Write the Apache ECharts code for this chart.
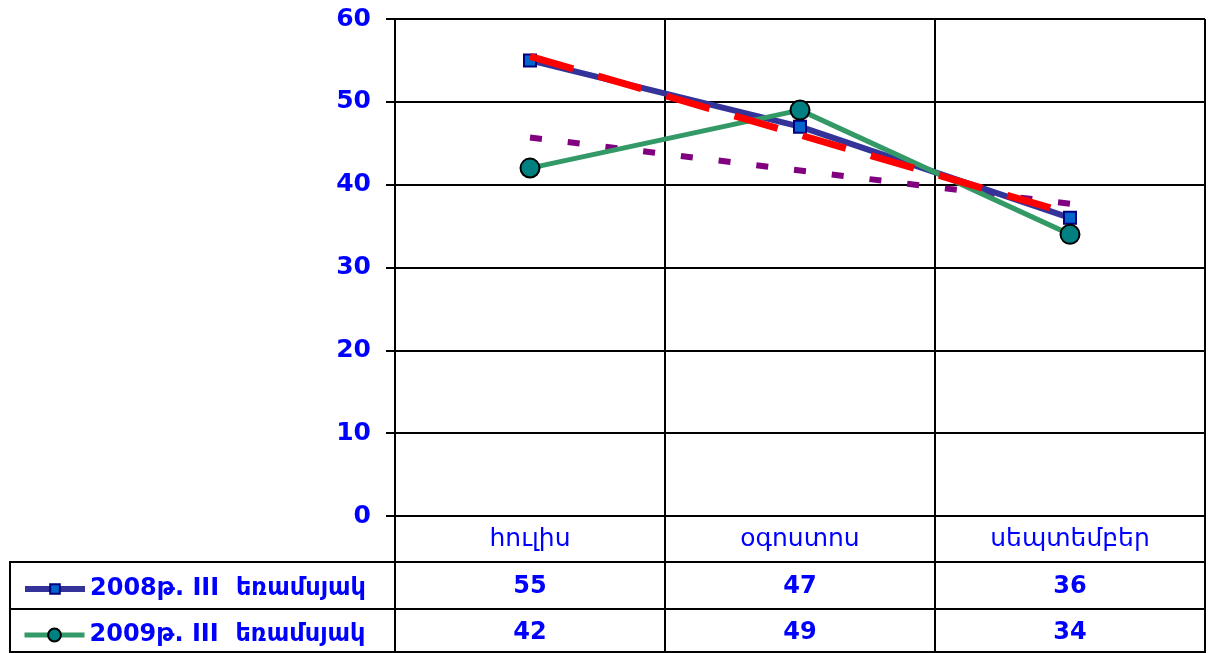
<!DOCTYPE html>
<html>
<head>
<meta charset="utf-8">
<script src="https://cdn.jsdelivr.net/npm/echarts@6/dist/echarts.min.js"></script>
<style>
  html, body { margin: 0; padding: 0; background: #fff; }
  #chart { width: 1208px; height: 653px; }
</style>
</head>
<body>
<div id="chart"></div>
<script>
// Months of the third quarter
const months = ['հուլիս', 'օգոստոս', 'սեպտեմբեր'];
const seriesNames = ['2008թ. III  եռամսյակ', '2009թ. III  եռամսյակ'];
const values2008 = [55, 47, 36];
const values2009 = [42, 49, 34];
// Linear trend lines for each year
const trend2008 = [55.5, 46, 36.5];
const trend2009 = [45.7, 41.7, 37.7];
const yTicks = [0, 10, 20, 30, 40, 50, 60];

const FONT = '"DejaVu Sans", "Liberation Sans", Arial, sans-serif';
const BLUE = '#0000FF';
const GRID_LINE = { color: '#000', width: 2 };

const chart = echarts.init(document.getElementById('chart'), null, { renderer: 'canvas' });

// Rows of the data table under the plot, one hidden axis per row for labels
function rowAxis(offset, margin, values) {
  return {
    type: 'category',
    data: months,
    position: 'bottom',
    offset: offset,
    axisLine: { show: false },
    axisTick: { show: false },
    splitLine: { show: false },
    axisLabel: {
      margin: margin,
      interval: 0,
      color: BLUE,
      fontFamily: FONT,
      fontSize: 24,
      fontWeight: 'bold',
      formatter: (v, i) => String(values[i])
    }
  };
}

const legendText = { color: BLUE, fontFamily: FONT, fontSize: 24, fontWeight: 'bold' };

const option = {
  animation: false,
  backgroundColor: '#fff',
  grid: { left: 395, right: 3, top: 19, bottom: 137, containLabel: false },
  xAxis: [
    {
      type: 'category',
      data: months,
      boundaryGap: true,
      position: 'bottom',
      axisLine: { show: true, lineStyle: GRID_LINE },
      axisTick: { show: true, interval: 0, length: 137, lineStyle: GRID_LINE },
      splitLine: { show: true, interval: 0, lineStyle: GRID_LINE },
      axisLabel: {
        margin: 11, interval: 0, color: BLUE, fontFamily: FONT, fontSize: 25
      }
    },
    rowAxis(46, 13, values2008),
    rowAxis(93, 12, values2009)
  ],
  yAxis: {
    type: 'value',
    min: yTicks[0],
    max: yTicks[yTicks.length - 1],
    interval: 10,
    axisLine: { show: true, lineStyle: GRID_LINE },
    axisTick: { show: true, length: 9, lineStyle: GRID_LINE },
    splitLine: { show: true, lineStyle: GRID_LINE },
    axisLabel: {
      margin: 24, color: BLUE, fontFamily: FONT, fontSize: 25, fontWeight: 'bold'
    }
  },
  legend: [
    {
      data: [seriesNames[0]],
      left: 17, top: 572,
      itemWidth: 60, itemHeight: 12, itemGap: 5,
      lineStyle: { width: 6 },
      textStyle: legendText
    },
    {
      data: [seriesNames[1]],
      left: 17, top: 618,
      itemWidth: 60, itemHeight: 16, itemGap: 5,
      lineStyle: { width: 5 },
      textStyle: legendText
    }
  ],
  graphic: [
    // table rules and left border
    { type: 'line', shape: { x1: 10, y1: 562, x2: 1205, y2: 562 }, style: { stroke: '#000', lineWidth: 2 } },
    { type: 'line', shape: { x1: 10, y1: 609, x2: 1205, y2: 609 }, style: { stroke: '#000', lineWidth: 2 } },
    { type: 'line', shape: { x1: 10, y1: 652, x2: 1205, y2: 652 }, style: { stroke: '#000', lineWidth: 2 } },
    { type: 'line', shape: { x1: 10, y1: 561, x2: 10, y2: 653 }, style: { stroke: '#000', lineWidth: 2 } }
  ],
  series: [
    {
      name: 'trend2009',
      type: 'line',
      data: trend2009,
      symbol: 'none',
      z: 2,
      lineStyle: { color: '#800080', width: 6, type: [12, 26] }
    },
    {
      name: seriesNames[0],
      type: 'line',
      data: values2008,
      symbol: 'rect',
      symbolSize: 12,
      z: 3,
      lineStyle: { color: '#333399', width: 6 },
      itemStyle: { color: '#0066CC', borderColor: '#000080', borderWidth: 2 }
    },
    {
      name: seriesNames[1],
      type: 'line',
      data: values2009,
      symbol: 'circle',
      symbolSize: 19,
      z: 4,
      lineStyle: { color: '#339966', width: 5 },
      itemStyle: { color: '#008080', borderColor: '#000', borderWidth: 2 }
    },
    {
      name: 'trend2008',
      type: 'line',
      data: trend2008,
      symbol: 'none',
      z: 5,
      lineStyle: { color: '#FF0000', width: 7, type: [45, 26] }
    }
  ]
};

chart.setOption(option);
</script>
</body>
</html>
